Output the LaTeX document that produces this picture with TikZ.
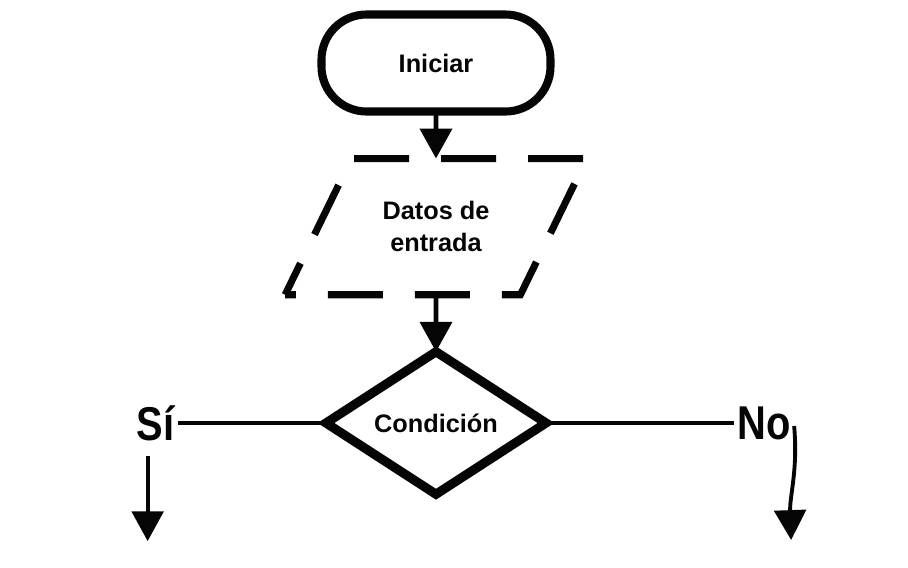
\documentclass[tikz,border=0pt]{standalone}
\usepackage{fontspec}
\setmainfont{Liberation Sans}
\newfontfamily\narrowfont[FakeStretch=0.84]{Liberation Sans}
\usetikzlibrary{positioning, shapes.geometric, arrows.meta}
\definecolor{inkclr}{rgb}{0.02, 0.02, 0.02}
\tikzset{ %
  ,>={Triangle[width=9pt, length=8.5pt]}
  ,every node/.style={font=\bfseries\fontsize{7.2}{9}\selectfont, text=inkclr, outer sep=0}
  ,term/.style={draw=inkclr, rectangle, rounded corners=0.45cm, line width=2.3pt, minimum width=2.29cm, minimum height=0.97cm}
  ,inout/.style={draw=inkclr, trapezium, trapezium left angle=64, trapezium right angle=116, inner xsep=0.31cm, inner ysep=0.43cm, line width=2pt, dash pattern=on 0.55cm off 0.32cm, dash phase=0.2cm, align=center}
  ,decision/.style={draw=inkclr, diamond, inner sep=0, line width=2.6pt, minimum width=2.2cm, minimum height=1.32cm}
  ,branch/.style={inner sep=1pt, font=\narrowfont\bfseries\fontsize{13.5}{15}\selectfont}
  ,flow/.style={draw=inkclr, line width=1.4pt}
  ,wire/.style={draw=inkclr, line width=1.1pt}
}

\begin{document}
\begin{tikzpicture}
  \useasboundingbox (0,0) rectangle (9.08,-5.68);
  \draw
  node[term] (ini) at (4.36,-0.63) {Iniciar}
  node[inout, below=0.47cm of ini] (dat) {Datos de\\entrada}
  node[decision, below=0.57cm of dat] (dia) {Condición}
  node[branch, left=1.48cm of dia] (si) {Sí}
  node[branch, right=1.88cm of dia] (no) {No};
  \coordinate[below=0.97cm of si.south, xshift=-0.08cm] (siend);
  \coordinate[below=1.17cm of no.east, xshift=-0.03cm] (noend);
  \draw [flow,->] (ini) -- (dat);
  \draw [flow,->] (dat) -- (dia);
  \draw [wire] (dia) -- (si) (dia) -- (no);
  \draw [wire,->] ([xshift=-0.08cm, yshift=-0.12cm]si.south) -- (siend);
  \draw [wire,->] ([yshift=-0.03cm]no.east) to[out=-85, in=92] (noend);
\end{tikzpicture}
\end{document}
